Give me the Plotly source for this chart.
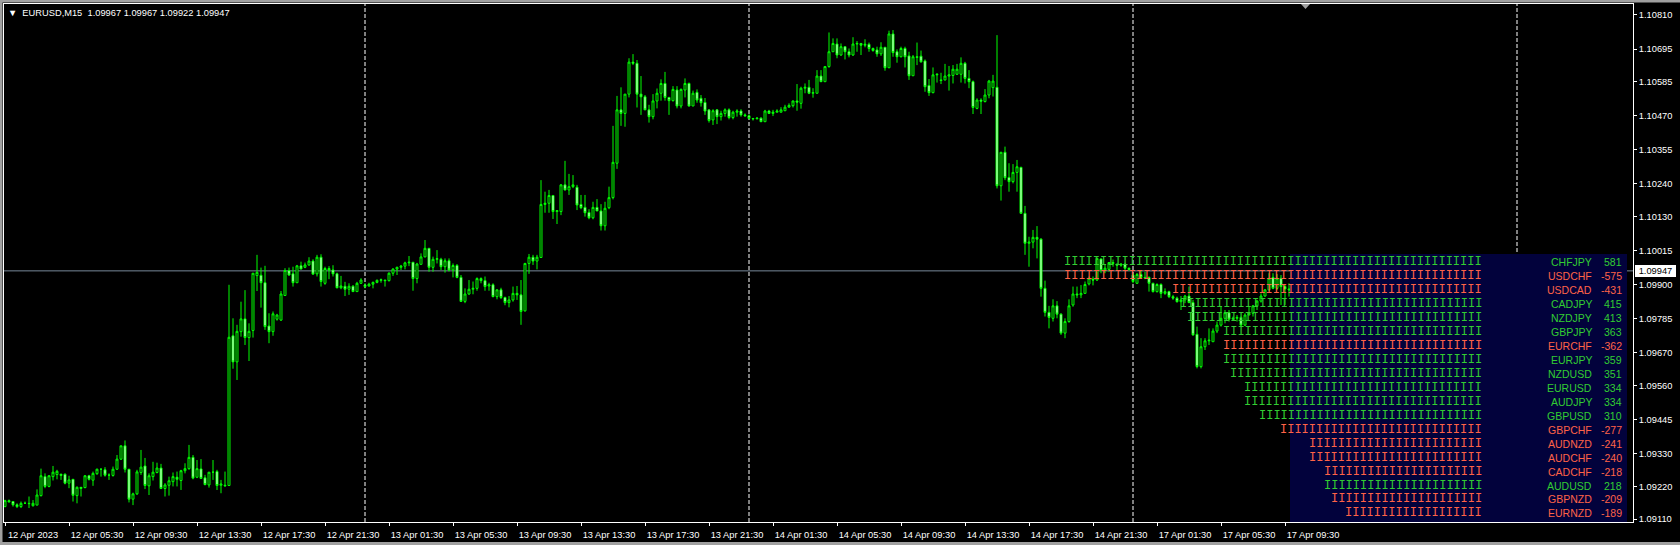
import plotly.graph_objects as go

# ---------------- data (EURUSD M15, bar by bar) ----------------
open_ = [
    1.09152, 1.09172, 1.09169, 1.09158, 1.09152, 1.09163, 1.09163, 1.09155, 1.09157, 1.09189,
    1.09253, 1.09220, 1.09253, 1.09260, 1.09261, 1.09261, 1.09231, 1.09244, 1.09189, 1.09217,
    1.09216, 1.09256, 1.09241, 1.09263, 1.09278, 1.09276, 1.09258, 1.09257, 1.09278, 1.09312,
    1.09357, 1.09278, 1.09177, 1.09195, 1.09267, 1.09289, 1.09222, 1.09253, 1.09267, 1.09282,
    1.09213, 1.09224, 1.09236, 1.09251, 1.09240, 1.09273, 1.09280, 1.09318, 1.09251, 1.09279,
    1.09249, 1.09225, 1.09268, 1.09270, 1.09224, 1.09224, 1.09223, 1.09728, 1.09640, 1.09742,
    1.09785, 1.09722, 1.09746, 1.09931, 1.09932, 1.09907, 1.09761, 1.09742, 1.09784, 1.09781,
    1.09864, 1.09948, 1.09937, 1.09907, 1.09964, 1.09959, 1.09967, 1.09980, 1.09937, 1.09993,
    1.09905, 1.09955, 1.09950, 1.09937, 1.09890, 1.09895, 1.09885, 1.09895, 1.09877, 1.09905,
    1.09899, 1.09896, 1.09902, 1.09908, 1.09915, 1.09916, 1.09914, 1.09939, 1.09953, 1.09959,
    1.09963, 1.09974, 1.09976, 1.09921, 1.09969, 1.09994, 1.10023, 1.09959, 1.09986, 1.09986,
    1.09961, 1.09981, 1.09950, 1.09965, 1.09925, 1.09844, 1.09869, 1.09885, 1.09888, 1.09921,
    1.09914, 1.09896, 1.09900, 1.09860, 1.09883, 1.09857, 1.09840, 1.09849, 1.09871, 1.09866,
    1.09812, 1.09972, 1.09993, 1.09980, 1.09992, 1.10171, 1.10175, 1.10201, 1.10147, 1.10147,
    1.10237, 1.10220, 1.10231, 1.10229, 1.10171, 1.10161, 1.10144, 1.10126, 1.10161, 1.10149,
    1.10099, 1.10160, 1.10194, 1.10310, 1.10490, 1.10478, 1.10543, 1.10651, 1.10647, 1.10543,
    1.10534, 1.10490, 1.10467, 1.10520, 1.10546, 1.10579, 1.10532, 1.10521, 1.10557, 1.10503,
    1.10557, 1.10579, 1.10503, 1.10549, 1.10529, 1.10515, 1.10490, 1.10456, 1.10490, 1.10467,
    1.10478, 1.10490, 1.10464, 1.10482, 1.10486, 1.10473, 1.10470, 1.10461, 1.10460, 1.10462,
    1.10450, 1.10486, 1.10478, 1.10482, 1.10482, 1.10487, 1.10499, 1.10504, 1.10520, 1.10512,
    1.10563, 1.10566, 1.10546, 1.10546, 1.10604, 1.10585, 1.10636, 1.10686, 1.10712, 1.10675,
    1.10703, 1.10686, 1.10675, 1.10712, 1.10714, 1.10708, 1.10711, 1.10697, 1.10692, 1.10679,
    1.10701, 1.10632, 1.10746, 1.10686, 1.10669, 1.10697, 1.10672, 1.10605, 1.10669, 1.10671,
    1.10655, 1.10572, 1.10548, 1.10608, 1.10591, 1.10591, 1.10604, 1.10606, 1.10610, 1.10610,
    1.10647, 1.10596, 1.10585, 1.10495, 1.10523, 1.10518, 1.10540, 1.10565, 1.10566, 1.10234,
    1.10347, 1.10262, 1.10248, 1.10279, 1.10296, 1.10141, 1.10040, 1.10044, 1.10060, 1.10054,
    1.09888, 1.09807, 1.09787, 1.09829, 1.09801, 1.09737, 1.09776, 1.09832, 1.09869, 1.09866,
    1.09871, 1.09903, 1.09919, 1.09916, 1.09987, 1.09948, 1.09952, 1.09975, 1.09970, 1.09966,
    1.09970, 1.09956, 1.09933, 1.09905, 1.09935, 1.09925, 1.09925, 1.09905, 1.09877, 1.09901,
    1.09871, 1.09877, 1.09860, 1.09855, 1.09843, 1.09849, 1.09862, 1.09840, 1.09733, 1.09624,
    1.09691, 1.09711, 1.09708, 1.09744, 1.09764, 1.09787, 1.09806, 1.09784, 1.09787, 1.09790,
    1.09764, 1.09798, 1.09804, 1.09829, 1.09845, 1.09862, 1.09883, 1.09925, 1.09888, 1.09922,
    1.09894, 1.09886,
]
high = [
    1.09175, 1.09176, 1.09170, 1.09163, 1.09169, 1.09169, 1.09186, 1.09174, 1.09210, 1.09280,
    1.09264, 1.09258, 1.09289, 1.09276, 1.09263, 1.09264, 1.09256, 1.09244, 1.09220, 1.09217,
    1.09258, 1.09259, 1.09270, 1.09280, 1.09280, 1.09285, 1.09264, 1.09287, 1.09326, 1.09357,
    1.09375, 1.09278, 1.09199, 1.09276, 1.09343, 1.09316, 1.09264, 1.09303, 1.09300, 1.09296,
    1.09231, 1.09253, 1.09267, 1.09270, 1.09276, 1.09298, 1.09360, 1.09326, 1.09309, 1.09312,
    1.09259, 1.09268, 1.09309, 1.09276, 1.09242, 1.09270, 1.09900, 1.09787, 1.09765, 1.09843,
    1.09882, 1.09770, 1.09939, 1.10001, 1.09958, 1.09964, 1.09804, 1.09810, 1.09802, 1.09879,
    1.09956, 1.09958, 1.09961, 1.09967, 1.09978, 1.09975, 1.09993, 1.09986, 1.10001, 1.10003,
    1.09961, 1.09963, 1.09966, 1.09941, 1.09930, 1.09910, 1.09905, 1.09899, 1.09910, 1.09922,
    1.09905, 1.09907, 1.09911, 1.09918, 1.09921, 1.09916, 1.09942, 1.09956, 1.09961, 1.09967,
    1.09978, 1.09997, 1.09976, 1.09974, 1.10006, 1.10051, 1.10023, 1.09995, 1.10017, 1.09991,
    1.09989, 1.09989, 1.09972, 1.09970, 1.09933, 1.09888, 1.09916, 1.09911, 1.09925, 1.09925,
    1.09928, 1.09907, 1.09905, 1.09885, 1.09890, 1.09860, 1.09862, 1.09894, 1.09896, 1.09916,
    1.09974, 1.10004, 1.10001, 1.10001, 1.10253, 1.10214, 1.10220, 1.10203, 1.10152, 1.10240,
    1.10318, 1.10274, 1.10270, 1.10237, 1.10203, 1.10203, 1.10155, 1.10180, 1.10189, 1.10172,
    1.10180, 1.10231, 1.10436, 1.10537, 1.10566, 1.10543, 1.10664, 1.10678, 1.10658, 1.10604,
    1.10540, 1.10507, 1.10543, 1.10562, 1.10593, 1.10618, 1.10532, 1.10570, 1.10570, 1.10562,
    1.10596, 1.10582, 1.10555, 1.10559, 1.10540, 1.10530, 1.10490, 1.10492, 1.10492, 1.10487,
    1.10495, 1.10495, 1.10487, 1.10492, 1.10492, 1.10478, 1.10475, 1.10461, 1.10465, 1.10465,
    1.10490, 1.10490, 1.10490, 1.10492, 1.10499, 1.10507, 1.10512, 1.10521, 1.10577, 1.10568,
    1.10579, 1.10591, 1.10563, 1.10624, 1.10624, 1.10636, 1.10751, 1.10731, 1.10731, 1.10714,
    1.10705, 1.10697, 1.10735, 1.10722, 1.10714, 1.10728, 1.10717, 1.10700, 1.10703, 1.10718,
    1.10701, 1.10757, 1.10759, 1.10694, 1.10703, 1.10703, 1.10686, 1.10675, 1.10717, 1.10690,
    1.10660, 1.10594, 1.10633, 1.10613, 1.10615, 1.10645, 1.10638, 1.10641, 1.10645, 1.10667,
    1.10652, 1.10624, 1.10589, 1.10529, 1.10529, 1.10560, 1.10591, 1.10608, 1.10742, 1.10347,
    1.10366, 1.10310, 1.10307, 1.10321, 1.10298, 1.10166, 1.10062, 1.10085, 1.10098, 1.10057,
    1.09914, 1.09829, 1.09851, 1.09845, 1.09804, 1.09787, 1.09851, 1.09894, 1.09894, 1.09899,
    1.09911, 1.09928, 1.09928, 1.09992, 1.09989, 1.09970, 1.09977, 1.09985, 1.09970, 1.09972,
    1.09972, 1.09958, 1.09939, 1.09940, 1.09950, 1.09944, 1.09928, 1.09907, 1.09905, 1.09905,
    1.09888, 1.09880, 1.09866, 1.09860, 1.09862, 1.09866, 1.09894, 1.09849, 1.09759, 1.09720,
    1.09720, 1.09753, 1.09753, 1.09776, 1.09826, 1.09815, 1.09815, 1.09793, 1.09798, 1.09793,
    1.09804, 1.09826, 1.09832, 1.09849, 1.09871, 1.09886, 1.09939, 1.09939, 1.09936, 1.09933,
    1.09899, 1.09905,
]
low = [
    1.09150, 1.09166, 1.09152, 1.09147, 1.09147, 1.09161, 1.09147, 1.09152, 1.09157, 1.09186,
    1.09214, 1.09217, 1.09240, 1.09244, 1.09242, 1.09227, 1.09214, 1.09169, 1.09163, 1.09186,
    1.09214, 1.09240, 1.09222, 1.09259, 1.09253, 1.09253, 1.09242, 1.09253, 1.09276, 1.09309,
    1.09267, 1.09166, 1.09157, 1.09191, 1.09259, 1.09211, 1.09191, 1.09240, 1.09264, 1.09211,
    1.09186, 1.09189, 1.09220, 1.09220, 1.09208, 1.09264, 1.09276, 1.09244, 1.09248, 1.09246,
    1.09224, 1.09216, 1.09242, 1.09208, 1.09197, 1.09220, 1.09223, 1.09617, 1.09579, 1.09725,
    1.09697, 1.09643, 1.09722, 1.09879, 1.09823, 1.09748, 1.09703, 1.09728, 1.09779, 1.09778,
    1.09864, 1.09930, 1.09894, 1.09907, 1.09953, 1.09956, 1.09964, 1.09933, 1.09928, 1.09894,
    1.09900, 1.09919, 1.09928, 1.09888, 1.09885, 1.09862, 1.09866, 1.09877, 1.09876, 1.09903,
    1.09888, 1.09894, 1.09888, 1.09905, 1.09907, 1.09894, 1.09911, 1.09930, 1.09933, 1.09950,
    1.09952, 1.09963, 1.09880, 1.09905, 1.09969, 1.09993, 1.09944, 1.09944, 1.09972, 1.09950,
    1.09941, 1.09945, 1.09925, 1.09922, 1.09843, 1.09838, 1.09866, 1.09868, 1.09880, 1.09905,
    1.09880, 1.09880, 1.09858, 1.09851, 1.09852, 1.09831, 1.09824, 1.09843, 1.09849, 1.09765,
    1.09810, 1.09937, 1.09967, 1.09952, 1.09992, 1.10143, 1.10143, 1.10122, 1.10105, 1.10135,
    1.10218, 1.10203, 1.10226, 1.10152, 1.10155, 1.10130, 1.10121, 1.10121, 1.10149, 1.10083,
    1.10083, 1.10155, 1.10188, 1.10291, 1.10436, 1.10433, 1.10532, 1.10641, 1.10498, 1.10473,
    1.10490, 1.10447, 1.10458, 1.10495, 1.10521, 1.10521, 1.10473, 1.10518, 1.10495, 1.10495,
    1.10532, 1.10501, 1.10503, 1.10514, 1.10501, 1.10473, 1.10447, 1.10439, 1.10442, 1.10454,
    1.10467, 1.10458, 1.10458, 1.10467, 1.10467, 1.10467, 1.10458, 1.10454, 1.10458, 1.10449,
    1.10450, 1.10476, 1.10469, 1.10482, 1.10482, 1.10486, 1.10498, 1.10498, 1.10487, 1.10494,
    1.10546, 1.10543, 1.10531, 1.10546, 1.10585, 1.10585, 1.10632, 1.10686, 1.10664, 1.10672,
    1.10660, 1.10667, 1.10672, 1.10686, 1.10675, 1.10701, 1.10686, 1.10686, 1.10669, 1.10672,
    1.10622, 1.10632, 1.10669, 1.10649, 1.10667, 1.10633, 1.10591, 1.10605, 1.10641, 1.10649,
    1.10551, 1.10537, 1.10546, 1.10582, 1.10577, 1.10589, 1.10555, 1.10579, 1.10608, 1.10582,
    1.10579, 1.10563, 1.10476, 1.10492, 1.10476, 1.10515, 1.10529, 1.10535, 1.10225, 1.10184,
    1.10253, 1.10214, 1.10242, 1.10214, 1.10141, 1.10001, 1.09961, 1.10023, 1.09989, 1.09860,
    1.09793, 1.09753, 1.09776, 1.09787, 1.09731, 1.09720, 1.09772, 1.09826, 1.09855, 1.09855,
    1.09871, 1.09898, 1.09898, 1.09913, 1.09939, 1.09939, 1.09944, 1.09961, 1.09950, 1.09961,
    1.09950, 1.09948, 1.09905, 1.09903, 1.09920, 1.09919, 1.09877, 1.09874, 1.09874, 1.09855,
    1.09866, 1.09855, 1.09849, 1.09840, 1.09815, 1.09838, 1.09838, 1.09728, 1.09618, 1.09618,
    1.09680, 1.09697, 1.09708, 1.09737, 1.09759, 1.09770, 1.09776, 1.09781, 1.09776, 1.09761,
    1.09761, 1.09798, 1.09793, 1.09815, 1.09840, 1.09860, 1.09880, 1.09885, 1.09883, 1.09832,
    1.09832, 1.09860,
]
close = [
    1.09172, 1.09168, 1.09158, 1.09152, 1.09163, 1.09163, 1.09162, 1.09163, 1.09191, 1.09256,
    1.09220, 1.09256, 1.09268, 1.09271, 1.09257, 1.09231, 1.09242, 1.09190, 1.09217, 1.09213,
    1.09256, 1.09244, 1.09264, 1.09278, 1.09278, 1.09258, 1.09258, 1.09278, 1.09312, 1.09357,
    1.09278, 1.09177, 1.09195, 1.09269, 1.09285, 1.09223, 1.09256, 1.09268, 1.09282, 1.09213,
    1.09225, 1.09239, 1.09253, 1.09244, 1.09273, 1.09280, 1.09318, 1.09248, 1.09280, 1.09247,
    1.09226, 1.09268, 1.09268, 1.09223, 1.09228, 1.09222, 1.09723, 1.09640, 1.09743, 1.09785,
    1.09722, 1.09743, 1.09939, 1.09942, 1.09907, 1.09759, 1.09742, 1.09802, 1.09798, 1.09869,
    1.09948, 1.09933, 1.09907, 1.09964, 1.09953, 1.09967, 1.09980, 1.09936, 1.09993, 1.09911,
    1.09955, 1.09950, 1.09937, 1.09890, 1.09896, 1.09885, 1.09895, 1.09877, 1.09905, 1.09916,
    1.09894, 1.09902, 1.09908, 1.09915, 1.09917, 1.09914, 1.09939, 1.09953, 1.09959, 1.09963,
    1.09974, 1.09976, 1.09921, 1.09970, 1.09994, 1.10023, 1.09959, 1.09986, 1.09988, 1.09961,
    1.09981, 1.09950, 1.09965, 1.09925, 1.09844, 1.09869, 1.09885, 1.09888, 1.09921, 1.09914,
    1.09894, 1.09900, 1.09860, 1.09883, 1.09857, 1.09840, 1.09849, 1.09871, 1.09866, 1.09810,
    1.09972, 1.09993, 1.09980, 1.09993, 1.10171, 1.10175, 1.10201, 1.10147, 1.10150, 1.10237,
    1.10220, 1.10231, 1.10237, 1.10169, 1.10160, 1.10143, 1.10126, 1.10161, 1.10149, 1.10099,
    1.10158, 1.10194, 1.10313, 1.10490, 1.10478, 1.10543, 1.10651, 1.10647, 1.10543, 1.10534,
    1.10490, 1.10467, 1.10520, 1.10546, 1.10579, 1.10532, 1.10521, 1.10559, 1.10503, 1.10559,
    1.10579, 1.10503, 1.10546, 1.10523, 1.10514, 1.10486, 1.10454, 1.10487, 1.10467, 1.10478,
    1.10490, 1.10464, 1.10482, 1.10486, 1.10473, 1.10470, 1.10461, 1.10460, 1.10462, 1.10450,
    1.10486, 1.10478, 1.10482, 1.10486, 1.10490, 1.10499, 1.10505, 1.10520, 1.10516, 1.10563,
    1.10566, 1.10546, 1.10548, 1.10604, 1.10585, 1.10636, 1.10686, 1.10714, 1.10675, 1.10703,
    1.10686, 1.10675, 1.10712, 1.10714, 1.10708, 1.10711, 1.10697, 1.10690, 1.10679, 1.10701,
    1.10632, 1.10746, 1.10683, 1.10669, 1.10697, 1.10669, 1.10605, 1.10669, 1.10667, 1.10652,
    1.10568, 1.10548, 1.10608, 1.10610, 1.10589, 1.10604, 1.10608, 1.10627, 1.10627, 1.10647,
    1.10596, 1.10585, 1.10498, 1.10523, 1.10519, 1.10540, 1.10587, 1.10587, 1.10234, 1.10347,
    1.10261, 1.10248, 1.10279, 1.10298, 1.10141, 1.10040, 1.10044, 1.10060, 1.10054, 1.09888,
    1.09807, 1.09790, 1.09829, 1.09801, 1.09737, 1.09776, 1.09829, 1.09869, 1.09866, 1.09871,
    1.09901, 1.09922, 1.09916, 1.09989, 1.09948, 1.09956, 1.09975, 1.09972, 1.09966, 1.09970,
    1.09956, 1.09951, 1.09911, 1.09935, 1.09925, 1.09922, 1.09905, 1.09877, 1.09901, 1.09871,
    1.09877, 1.09860, 1.09855, 1.09843, 1.09849, 1.09862, 1.09840, 1.09731, 1.09624, 1.09691,
    1.09711, 1.09713, 1.09744, 1.09764, 1.09787, 1.09806, 1.09784, 1.09787, 1.09790, 1.09764,
    1.09798, 1.09804, 1.09829, 1.09845, 1.09862, 1.09883, 1.09922, 1.09888, 1.09922, 1.09894,
    1.09886, 1.09883,
]

symbol = "EURUSD,M15"
last_bar = [1.09967, 1.09967, 1.09922, 1.09947]   # O H L C of the current bar
bid = last_bar[3]

time_labels = [
    "12 Apr 2023", "12 Apr 05:30", "12 Apr 09:30", "12 Apr 13:30", "12 Apr 17:30",
    "12 Apr 21:30", "13 Apr 01:30", "13 Apr 05:30", "13 Apr 09:30", "13 Apr 13:30",
    "13 Apr 17:30", "13 Apr 21:30", "14 Apr 01:30", "14 Apr 05:30", "14 Apr 09:30",
    "14 Apr 13:30", "14 Apr 17:30", "14 Apr 21:30", "17 Apr 01:30", "17 Apr 05:30",
    "17 Apr 09:30",
]
bars_per_label = 16
day_start_bars = [90, 186, 282, 378]

price_ticks = [1.10810, 1.10695, 1.10585, 1.10470, 1.10355, 1.10240, 1.10130, 1.10015,
               1.09900, 1.09785, 1.09670, 1.09560, 1.09445, 1.09330, 1.09220, 1.09110]

pairs = ["CHFJPY", "USDCHF", "USDCAD", "CADJPY", "NZDJPY", "GBPJPY", "EURCHF", "EURJPY",
         "NZDUSD", "EURUSD", "AUDJPY", "GBPUSD", "GBPCHF", "AUDNZD", "AUDCHF", "CADCHF",
         "AUDUSD", "GBPNZD", "EURNZD"]
strength = [581, -575, -431, 415, 413, 363, -362, 359, 351, 334, 334, 310, -277, -241,
            -240, -218, 218, -209, -189]

# ---------------- layout geometry ----------------
W, H = 1680, 545
ML, MR, MT, MB = 4, 47, 4, 23
PW, PH = W - ML - MR, H - MT - MB


def px(x):
    return (x - ML) / PW


def py(y):
    return (H - MB - y) / PH


GREEN = "#32CD32"
RED = "#FF6347"
AXFONT = dict(family="Liberation Sans, Arial, sans-serif", size=9.3, color="#FFFFFF")

fig = go.Figure()
fig.add_trace(go.Candlestick(
    x=list(range(len(close))), open=open_, high=high, low=low, close=close,
    increasing=dict(line=dict(color="#00FF00", width=1), fillcolor="#000000"),
    decreasing=dict(line=dict(color="#00FF00", width=1), fillcolor="#FFFFFF"),
    whiskerwidth=0, showlegend=False, name=symbol,
))

shapes = []
for d in day_start_bars:
    shapes.append(dict(type="line", xref="x", yref="paper", x0=d, x1=d, y0=0, y1=1,
                       line=dict(color="#FFFFFF", width=1, dash="4px,2px"), layer="below"))
shapes.append(dict(type="line", xref="paper", yref="y", x0=0, x1=1, y0=bid, y1=bid,
                   line=dict(color="#778899", width=1), layer="below"))
# strength panel background
shapes.append(dict(type="rect", xref="paper", yref="paper", x0=px(1290), x1=px(1627),
                   y0=py(522), y1=py(254), fillcolor="#02023C", line=dict(width=0),
                   layer="above"))
# window frame
for (x0, x1, y0, y1) in [(0, 2.5, 0, H), (0, W, 0, 2.5), (0, W, 542, H)]:
    shapes.append(dict(type="rect", xref="paper", yref="paper", x0=px(x0), x1=px(x1),
                       y0=py(y1), y1=py(y0), fillcolor="#A0A0A0", line=dict(width=0),
                       layer="above"))
# chart shift marker
shapes.append(dict(type="path", xref="paper", yref="paper",
                   path=f"M {px(1301)},{py(4)} L {px(1310)},{py(4)} L {px(1305.5)},{py(9)} Z",
                   fillcolor="#A0A0A0", line=dict(width=0), layer="above"))

annotations = []
title = "\u25BC\u00a0 " + symbol + "\u00a0 " + " ".join(f"{v:.5f}" for v in last_bar)
annotations.append(dict(text=title, xref="paper", yref="paper", x=px(8), y=py(12.5),
                        xanchor="left", yanchor="middle", showarrow=False,
                        font=AXFONT, borderpad=0, borderwidth=0))
annotations.append(dict(text=f"{bid:.5f}", xref="paper", yref="y", x=px(1635), y=bid,
                        xanchor="left", yanchor="middle", showarrow=False,
                        font=dict(family=AXFONT["family"], size=9.3, color="#000000"),
                        bgcolor="#FFFFFF", width=41, height=12, borderpad=0, borderwidth=0))

row_y0, row_dy = 262.3, 13.95
for k, (p, v) in enumerate(zip(pairs, strength)):
    col = GREEN if v > 0 else RED
    yy = py(row_y0 + row_dy * k)
    annotations.append(dict(text="I" * round(abs(v) / 10), xref="paper", yref="paper",
                            x=px(1482), y=yy, xanchor="right", yanchor="middle",
                            showarrow=False, borderpad=0, borderwidth=0,
                            font=dict(family="Liberation Mono, Courier New, monospace",
                                      size=12, color=col)))
    annotations.append(dict(text=p, xref="paper", yref="paper", x=px(1592), y=yy,
                            xanchor="right", yanchor="middle", showarrow=False,
                            borderpad=0, borderwidth=0,
                            font=dict(family="Liberation Sans, Arial, sans-serif",
                                      size=10.5, color=col)))
    annotations.append(dict(text=str(v), xref="paper", yref="paper", x=px(1622), y=yy,
                            xanchor="right", yanchor="middle", showarrow=False,
                            borderpad=0, borderwidth=0,
                            font=dict(family="Liberation Sans, Arial, sans-serif",
                                      size=10.5, color=col)))

fig.update_layout(
    width=W, height=H,
    margin=dict(l=ML, r=MR, t=MT, b=MB, pad=0),
    paper_bgcolor="#000000", plot_bgcolor="#000000",
    showlegend=False, shapes=shapes, annotations=annotations,
    xaxis=dict(
        range=[-0.25, 407], rangeslider=dict(visible=False),
        tickvals=[bars_per_label * k for k in range(len(time_labels))],
        ticktext=time_labels, ticks="outside", ticklen=3, tickcolor="#FFFFFF",
        tickfont=AXFONT, ticklabelshift=28, ticklabelstandoff=1,
        showgrid=False, zeroline=False, showline=True, linecolor="#FFFFFF",
        linewidth=1, mirror=True,
    ),
    yaxis=dict(
        side="right", range=[1.09100, 1.10847],
        tickvals=price_ticks, ticktext=[f"{v:.5f}" for v in price_ticks],
        ticks="outside", ticklen=3, tickcolor="#FFFFFF", tickfont=AXFONT,
        showgrid=False, zeroline=False, showline=True, linecolor="#FFFFFF",
        linewidth=1, mirror=True,
    ),
)

fig.write_html(
    "out.html",
    config={"displayModeBar": False},
    post_script="document.body.style.margin='0';document.body.style.overflow='hidden';",
)
